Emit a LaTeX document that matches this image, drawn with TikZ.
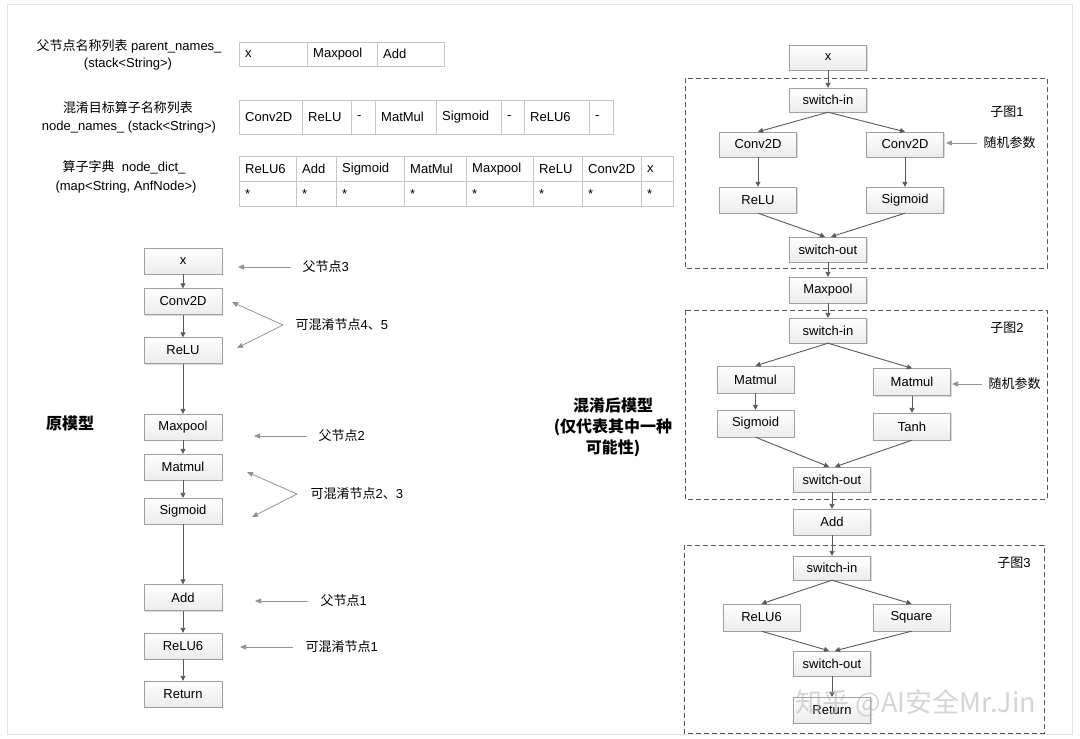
\documentclass[tikz,border=0pt]{standalone}
\usepackage{fontspec}
\setmainfont{Liberation Sans}
\newfontfamily\cjk{Noto Sans CJK SC}
\usetikzlibrary{arrows.meta,shadows}

% one table cell: name, left x, top y, width, height, text
\newcommand\tabcell[6]{%
  \node[tcell, anchor=north west, minimum width=#4pt, minimum height=#5pt] (#1) at (#2,#3) {};
  \node[ttext] (#1t) at ([xshift=6pt]#1.west) {#6};}

\begin{document}
\begin{tikzpicture}[x=1pt, y=-1pt, font=\fontsize{13}{15}\selectfont,
  box/.style={draw=gray!75, top color=white, bottom color=gray!15,
    minimum width=77pt, minimum height=25pt, inner sep=0pt,
    drop shadow={shadow xshift=1.2pt, shadow yshift=-1.2pt, opacity=0.3, fill=gray}},
  flow/.style={draw=black!65, line width=0.9pt, -{Triangle[length=5pt,width=5pt]}},
  note/.style={draw=gray!85, line width=0.8pt, -{Triangle[length=6pt,width=5pt]}},
  tcell/.style={draw=gray!45, fill=white, inner sep=0pt},
  ttext/.style={anchor=west, inner sep=0pt},
  dashbox/.style={draw=black!65, dash pattern=on 5pt off 3pt, line width=0.9pt},
  lbl/.style={font=\fontsize{13}{15}\selectfont},
  headline/.style={font=\fontsize{16}{21}\selectfont\cjk\bfseries, align=center},
]
\useasboundingbox (0,0) rectangle (1080,739);
\draw[gray!22, line width=1pt] (7,4) rectangle (1072,734);

% ---------- data structures ----------
\node[lbl] (lab1a) at (129,46) {{\cjk 父节点名称列表} parent\_names\_};
\node[lbl] (lab1b) at (128,64) {(stack<String>)};
\node[lbl] (lab2a) at (128,108) {\cjk 混淆目标算子名称列表};
\node[lbl] (lab2b) at (129,127) {node\_names\_ (stack<String>)};
\node[lbl] (lab3a) at (124,167) {{\cjk 算子字典}\ \ node\_dict\_};
\node[lbl] (lab3b) at (126,187) {(map<String, AnfNode>)};

\tabcell{pa}{239}{42}{68}{24}{x}
\tabcell{pb}{307}{42}{70}{24}{Maxpool}
\tabcell{pc}{377}{42}{67}{24}{Add}

\tabcell{na}{239}{100}{63}{34}{Conv2D}
\tabcell{nb}{302}{100}{49}{34}{ReLU}
\tabcell{nc}{351}{100}{24}{34}{-}
\tabcell{nd}{375}{100}{61}{34}{MatMul}
\tabcell{ne}{436}{100}{65}{34}{Sigmoid}
\tabcell{nf}{501}{100}{23}{34}{-}
\tabcell{ng}{524}{100}{65}{34}{ReLU6}
\tabcell{nh}{589}{100}{24}{34}{-}

\tabcell{da}{239}{156}{57}{25}{ReLU6}
\tabcell{db}{296}{156}{40}{25}{Add}
\tabcell{dc}{336}{156}{68}{25}{Sigmoid}
\tabcell{dd}{404}{156}{62}{25}{MatMul}
\tabcell{de}{466}{156}{67}{25}{Maxpool}
\tabcell{df}{533}{156}{49}{25}{ReLU}
\tabcell{dg}{582}{156}{59}{25}{Conv2D}
\tabcell{dh}{641}{156}{32}{25}{x}
\tabcell{sa}{239}{181}{57}{25}{*}
\tabcell{sb}{296}{181}{40}{25}{*}
\tabcell{sc}{336}{181}{68}{25}{*}
\tabcell{sd}{404}{181}{62}{25}{*}
\tabcell{se}{466}{181}{67}{25}{*}
\tabcell{sf}{533}{181}{49}{25}{*}
\tabcell{sg}{582}{181}{59}{25}{*}
\tabcell{sh}{641}{181}{32}{25}{*}

% ---------- original model ----------
\node[headline] (orig) at (70,423) {原模型};
\begin{scope}[box/.append style={minimum width=78pt, minimum height=26pt}]
\node[box] (lx)     at (183,261)   {x};
\node[box] (lconv)  at (183,301.5) {Conv2D};
\node[box] (lrelu)  at (183,350.5) {ReLU};
\node[box] (lmax)   at (183,427)   {Maxpool};
\node[box] (lmat)   at (183,467)   {Matmul};
\node[box] (lsig)   at (183,511)   {Sigmoid};
\node[box] (ladd)   at (183,597.5) {Add};
\node[box] (lrelu6) at (183,646)   {ReLU6};
\node[box] (lret)   at (183,694)   {Return};
\end{scope}
\foreach \a/\b in {lx/lconv, lconv/lrelu, lrelu/lmax, lmax/lmat, lmat/lsig,
                   lsig/ladd, ladd/lrelu6, lrelu6/lret}
  \draw[flow] (\a.south) -- (\b.north);

% annotations
\node[lbl, anchor=west] (n3) at (299,267) {{\cjk 父节点}3};
\coordinate (n3s) at (291,267); \coordinate (n3e) at (238,267);
\draw[note] (n3s) -- (n3e);

\node[lbl, anchor=west] (o45) at (292,325) {{\cjk 可混淆节点}4{\cjk 、}5};
\coordinate (v45) at (283,325);
\coordinate (t4) at (232,302); \coordinate (t5) at (237,348);
\draw[note] (v45) -- (t4);
\draw[note] (v45) -- (t5);

\node[lbl, anchor=west] (n2) at (315,436) {{\cjk 父节点}2};
\coordinate (n2s) at (307,436); \coordinate (n2e) at (254,436);
\draw[note] (n2s) -- (n2e);

\node[lbl, anchor=west] (o23) at (307,494) {{\cjk 可混淆节点}2{\cjk 、}3};
\coordinate (v23) at (297,494);
\coordinate (t2) at (247,472); \coordinate (t3) at (252,517);
\draw[note] (v23) -- (t2);
\draw[note] (v23) -- (t3);

\node[lbl, anchor=west] (n1) at (317,601) {{\cjk 父节点}1};
\coordinate (n1s) at (308,601); \coordinate (n1e) at (255,601);
\draw[note] (n1s) -- (n1e);

\node[lbl, anchor=west] (o1) at (302,647) {{\cjk 可混淆节点}1};
\coordinate (o1s) at (293,647); \coordinate (o1e) at (240,647);
\draw[note] (o1s) -- (o1e);

% ---------- obfuscated model ----------
\node[headline] (obf) at (613,427) {混淆后模型\\(仅代表其中一种\\可能性)};

\draw[dashbox] (685,78) rectangle (1047,268);
\draw[dashbox] (685,310) rectangle (1047,499);
\draw[dashbox] (684,545) rectangle (1044,733);
\node[lbl] (sub1) at (1007,112) {{\cjk 子图}1};
\node[lbl] (sub2) at (1007,328) {{\cjk 子图}2};
\node[lbl] (sub3) at (1014,563) {{\cjk 子图}3};

\node[box] (rx)   at (828,57.5)  {x};
\node[box, minimum height=24pt] (si1) at (828,100) {switch-in};
\node[box] (c1l)  at (758,144.5) {Conv2D};
\node[box] (c1r)  at (905,144.5) {Conv2D};
\node[box, minimum height=26pt] (r1)   at (758,200) {ReLU};
\node[box, minimum height=26pt] (s1)   at (905,200) {Sigmoid};
\node[box] (so1)  at (828,249.5) {switch-out};
\node[box, minimum height=26pt] (mp) at (828,290) {Maxpool};

\node[box] (si2)  at (828,330.5) {switch-in};
\node[box, minimum height=27pt] (m2l)  at (755.5,379.5) {Matmul};
\node[box, minimum height=27pt] (m2r)  at (912,382)   {Matmul};
\node[box, minimum height=27pt] (sg2)  at (755.5,423.5) {Sigmoid};
\node[box, minimum height=27pt] (t2b)  at (912,426.5) {Tanh};
\node[box] (so2)  at (832,479.5) {switch-out};
\node[box, minimum height=26pt] (radd) at (832,522) {Add};

\node[box, minimum height=24pt] (si3) at (832,568) {switch-in};
\node[box, minimum height=27pt] (r3)  at (761.5,617.5) {ReLU6};
\node[box, minimum height=27pt] (sq3) at (911.5,617.5) {Square};
\node[box] (so3)  at (832,663.5) {switch-out};
\node[box, minimum height=26pt] (rret) at (832,710) {Return};

\draw[flow] (rx.south) -- (si1.north);
\draw[flow] (si1.south) -- (c1l.north);
\draw[flow] (si1.south) -- (c1r.north);
\draw[flow] (c1l.south) -- (r1.north);
\draw[flow] (c1r.south) -- (s1.north);
\draw[flow] (r1.south) -- ([xshift=-3pt]so1.north);
\draw[flow] (s1.south) -- ([xshift=3pt]so1.north);
\draw[flow] (so1.south) -- (mp.north);
\draw[flow] (mp.south) -- (si2.north);
\draw[flow] (si2.south) -- (m2l.north);
\draw[flow] (si2.south) -- (m2r.north);
\draw[flow] (m2l.south) -- (sg2.north);
\draw[flow] (m2r.south) -- (t2b.north);
\draw[flow] (sg2.south) -- ([xshift=-3pt]so2.north);
\draw[flow] (t2b.south) -- ([xshift=3pt]so2.north);
\draw[flow] (so2.south) -- (radd.north);
\draw[flow] (radd.south) -- (si3.north);
\draw[flow] (si3.south) -- (r3.north);
\draw[flow] (si3.south) -- (sq3.north);
\draw[flow] (r3.south) -- ([xshift=-3pt]so3.north);
\draw[flow] (sq3.south) -- ([xshift=3pt]so3.north);
\draw[flow] (so3.south) -- (rret.north);

\node[lbl, anchor=west] (rp1) at (980,143) {\cjk 随机参数};
\coordinate (rp1s) at (977,143); \coordinate (rp1e) at (946,143);
\draw[note] (rp1s) -- (rp1e);
\node[lbl, anchor=west] (rp2) at (985,384) {\cjk 随机参数};
\coordinate (rp2s) at (982,384); \coordinate (rp2e) at (952,384);
\draw[note] (rp2s) -- (rp2e);

% watermark
\node[font=\fontsize{27}{30}\selectfont\cjk, text=gray!60, opacity=0.55] (wm) at (916,703) {知乎 @AI安全Mr.Jin};
\end{tikzpicture}
\end{document}
